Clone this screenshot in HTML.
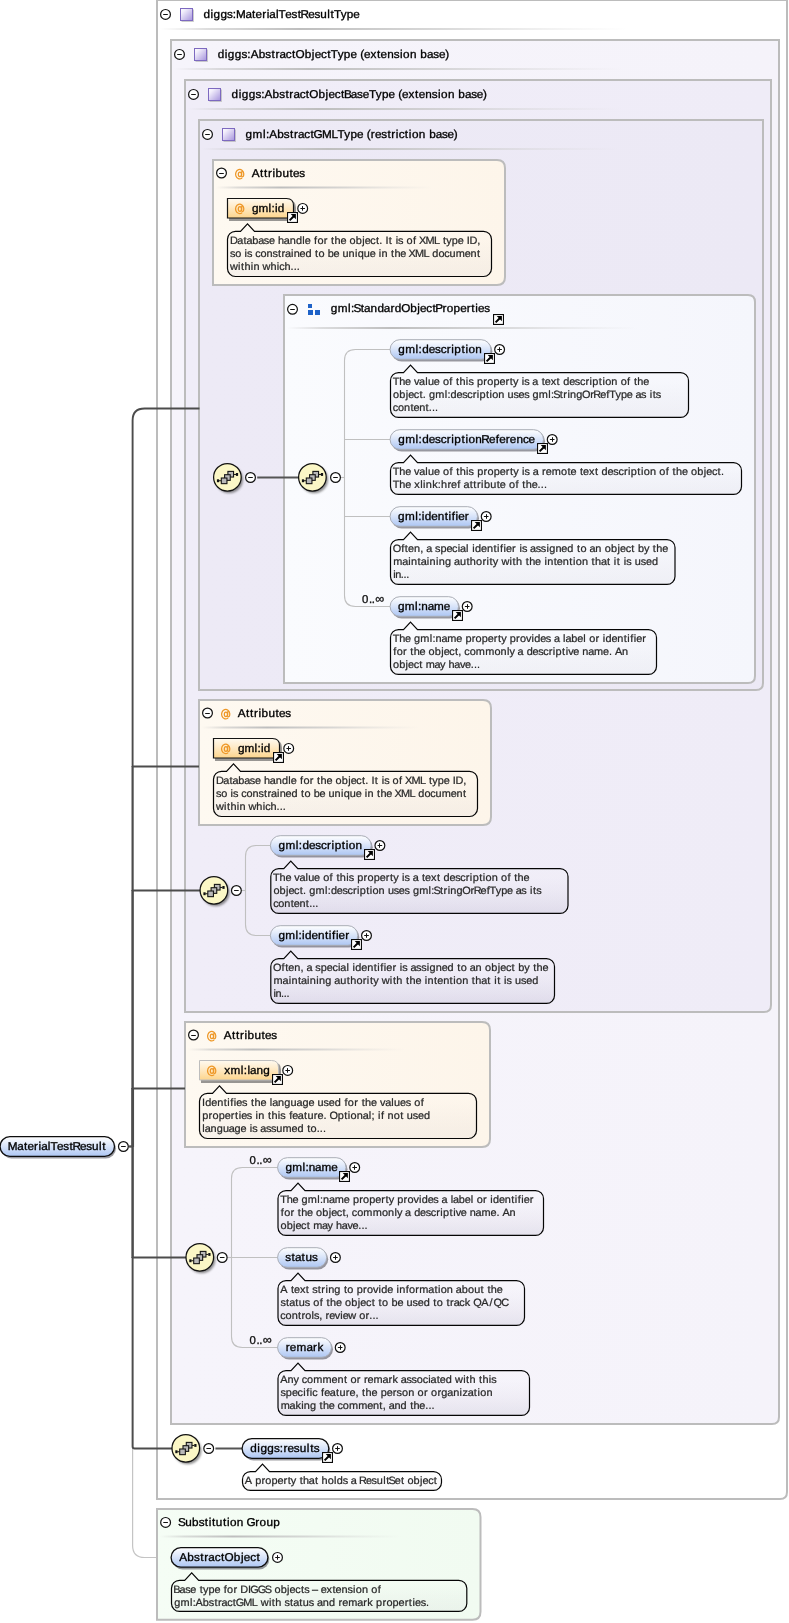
<!DOCTYPE html>
<html><head><meta charset="utf-8"><title>MaterialTestResult</title>
<style>html,body{margin:0;padding:0;background:#fff}svg{display:block;will-change:transform;opacity:0.999}</style>
</head><body>
<svg width="789" height="1623" viewBox="0 0 789 1623" font-family="Liberation Sans, sans-serif" text-rendering="geometricPrecision">
<defs>
<linearGradient id="gsep" x1="0" x2="1" y1="0" y2="0"><stop offset="0" stop-color="#c4c4c4" stop-opacity="0"/><stop offset="0.1" stop-color="#c2c2c2" stop-opacity="0.55"/><stop offset="0.3" stop-color="#bebebe" stop-opacity="1"/><stop offset="0.6" stop-color="#c8c8c8" stop-opacity="0.7"/><stop offset="1" stop-color="#d8d8d8" stop-opacity="0"/></linearGradient>
<linearGradient id="gicon" x1="0" x2="1" y1="0" y2="1"><stop offset="0" stop-color="#ffffff"/><stop offset="0.25" stop-color="#f1edfb"/><stop offset="1" stop-color="#a593dc"/></linearGradient>
<linearGradient id="gpill" x1="0" x2="0" y1="0" y2="1"><stop offset="0" stop-color="#ffffff"/><stop offset="0.35" stop-color="#e4ecfb"/><stop offset="1" stop-color="#adc6f3"/></linearGradient>
<linearGradient id="gattr" x1="0" x2="0" y1="0" y2="1"><stop offset="0" stop-color="#fffaf0"/><stop offset="0.4" stop-color="#ffeccb"/><stop offset="1" stop-color="#fdd58c"/></linearGradient>
<radialGradient id="gseq" cx="0.4" cy="0.35" r="0.8"><stop offset="0" stop-color="#fffce0"/><stop offset="1" stop-color="#f6eeb0"/></radialGradient>
<linearGradient id="gb0" x1="0" x2="1" y1="0" y2="0"><stop offset="0" stop-color="#ffffff"/><stop offset="1" stop-color="#ffffff"/></linearGradient>
<linearGradient id="gb1" x1="0" x2="1" y1="0" y2="0"><stop offset="0" stop-color="#f6f4fb"/><stop offset="1" stop-color="#f5f3fa"/></linearGradient>
<linearGradient id="gb2" x1="0" x2="1" y1="0" y2="0"><stop offset="0" stop-color="#f0edf8"/><stop offset="1" stop-color="#efecf7"/></linearGradient>
<linearGradient id="gb3" x1="0" x2="1" y1="0" y2="0"><stop offset="0" stop-color="#edeaf6"/><stop offset="1" stop-color="#ece9f5"/></linearGradient>
<linearGradient id="gatt" x1="0" x2="1" y1="0" y2="0"><stop offset="0" stop-color="#fef9f1"/><stop offset="1" stop-color="#fdf5ea"/></linearGradient>
<linearGradient id="ggrp" x1="0" x2="1" y1="0" y2="0"><stop offset="0" stop-color="#fafbfe"/><stop offset="1" stop-color="#f5f6fc"/></linearGradient>
<linearGradient id="gsub" x1="0" x2="1" y1="0" y2="0"><stop offset="0" stop-color="#f5fdf5"/><stop offset="1" stop-color="#f1fbf1"/></linearGradient>
<linearGradient id="gcall" x1="0" x2="0" y1="0" y2="1"><stop offset="0" stop-color="#ffffff" stop-opacity="0.15"/><stop offset="0.3" stop-color="#ffffff" stop-opacity="0.05"/><stop offset="1" stop-color="#3c3264" stop-opacity="0.09"/></linearGradient>
<linearGradient id="gcall2" x1="0" x2="0" y1="0" y2="1"><stop offset="0" stop-color="#ffffff" stop-opacity="0.3"/><stop offset="0.3" stop-color="#ffffff" stop-opacity="0.05"/><stop offset="1" stop-color="#3c3250" stop-opacity="0.04"/></linearGradient>
<filter id="blur2" x="-20%" y="-30%" width="140%" height="170%"><feGaussianBlur stdDeviation="0.7"/></filter>
<filter id="blur1" x="-20%" y="-20%" width="140%" height="150%"><feGaussianBlur stdDeviation="0.9"/></filter>
</defs>
<rect width="789" height="1623" fill="#fff"/>
<path d="M132.6,1146V1545.5Q132.6,1557.5 144.6,1557.5H171" fill="none" stroke="#c4c4c4" stroke-width="1.2"/>
<path d="M157,0H787V1492Q787,1499 780,1499H157Z" fill="url(#gb0)" stroke="#bcbcbc" stroke-width="2"/>
<path d="M171,40H779V1417Q779,1424 772,1424H171Z" fill="url(#gb1)" stroke="#bcbcbc" stroke-width="2"/>
<path d="M185,80H771V1005Q771,1012 764,1012H185Z" fill="url(#gb2)" stroke="#bcbcbc" stroke-width="2"/>
<path d="M199,120H763V683Q763,690 756,690H199Z" fill="url(#gb3)" stroke="#bcbcbc" stroke-width="2"/>
<circle cx="165.5" cy="14.4" r="4.9" fill="#fff" stroke="#111" stroke-width="1.2"/>
<path d="M163.2,14.5H167.8" stroke="#111" stroke-width="1.05"/>
<rect x="181.5" y="9.5" width="12.4" height="12.4" fill="#9a9a9a" opacity="0.55"/>
<rect x="180.5" y="8.5" width="12" height="12" fill="url(#gicon)" stroke="#7d69c0" stroke-width="1"/>
<text transform="scale(1.03,1)" x="197.65 204.44 207.40 214.02 220.37 226.05 229.16 238.28 244.76 248.14 254.58 258.93 261.52 267.91 270.46 276.99 283.04 288.99 291.83 299.20 305.24 310.94 317.69 320.88 324.16 330.79 336.61 342.95" y="18.0" font-size="11.4" fill="#000" stroke="#000" stroke-width="0.33" >diggs:MaterialTestResultType</text>
<rect x="160" y="28" width="467" height="2" fill="url(#gsep)"/>
<circle cx="179.5" cy="54.4" r="4.9" fill="#fff" stroke="#111" stroke-width="1.2"/>
<path d="M177.2,54.5H181.8" stroke="#111" stroke-width="1.05"/>
<rect x="195.5" y="49.5" width="12.4" height="12.4" fill="#9a9a9a" opacity="0.55"/>
<rect x="194.5" y="48.5" width="12" height="12" fill="url(#gicon)" stroke="#7d69c0" stroke-width="1"/>
<text transform="scale(1.03,1)" x="211.30 218.18 221.22 227.96 234.41 240.17 243.37 251.11 257.60 263.63 267.51 271.43 277.51 283.55 286.93 295.82 302.76 305.54 311.69 317.72 321.09 327.83 333.75 340.21 346.56 349.75 353.32 359.73 366.02 369.48 375.89 382.33 388.27 391.28 397.96 404.61 408.14 414.53 420.62 426.12 432.24" y="58.0" font-size="11.4" fill="#000" stroke="#000" stroke-width="0.33" >diggs:AbstractObjectType (extension base)</text>
<rect x="174" y="68" width="450" height="2" fill="url(#gsep)"/>
<circle cx="193.5" cy="94.4" r="4.9" fill="#fff" stroke="#111" stroke-width="1.2"/>
<path d="M191.2,94.5H195.8" stroke="#111" stroke-width="1.05"/>
<rect x="209.5" y="89.5" width="12.4" height="12.4" fill="#9a9a9a" opacity="0.55"/>
<rect x="208.5" y="88.5" width="12" height="12" fill="url(#gicon)" stroke="#7d69c0" stroke-width="1"/>
<text transform="scale(1.03,1)" x="224.88 231.75 234.78 241.50 247.94 253.68 256.87 264.59 271.06 277.08 280.94 284.85 290.92 296.94 300.31 309.18 316.10 318.87 325.01 331.03 333.90 340.62 346.69 352.18 358.18 364.90 370.81 377.25 383.59 386.77 390.33 396.72 403.00 406.45 412.84 419.26 425.18 428.18 434.85 441.49 445.00 451.38 457.44 462.94 469.04" y="98.0" font-size="11.4" fill="#000" stroke="#000" stroke-width="0.33" >diggs:AbstractObjectBaseType (extension base)</text>
<rect x="188" y="108" width="434" height="2" fill="url(#gsep)"/>
<circle cx="207.5" cy="134.4" r="4.9" fill="#fff" stroke="#111" stroke-width="1.2"/>
<path d="M205.2,134.5H209.8" stroke="#111" stroke-width="1.05"/>
<rect x="223.5" y="129.5" width="12.4" height="12.4" fill="#9a9a9a" opacity="0.55"/>
<rect x="222.5" y="128.5" width="12" height="12" fill="url(#gicon)" stroke="#7d69c0" stroke-width="1"/>
<text transform="scale(1.03,1)" x="238.43 245.23 255.33 258.28 261.45 269.14 275.59 281.58 285.43 289.31 295.36 301.36 304.44 312.72 321.81 327.62 334.31 340.19 346.60 352.93 356.09 360.05 364.00 370.10 376.10 379.95 384.33 387.07 393.07 396.94 399.92 406.55 413.17 416.66 423.01 429.05 434.52 440.60" y="138.0" font-size="11.4" fill="#000" stroke="#000" stroke-width="0.33" >gml:AbstractGMLType (restriction base)</text>
<rect x="202" y="148" width="418" height="2" fill="url(#gsep)"/>
<path d="M213,160H497Q505,160 505,168V277Q505,285 497,285H213Z" fill="url(#gatt)" stroke="#bcbcbc" stroke-width="2"/>
<circle cx="221.5" cy="173" r="4.9" fill="#fff" stroke="#111" stroke-width="1.2"/>
<path d="M219.2,173.5H223.8" stroke="#111" stroke-width="1.05"/>
<path d="M241.75,178.25A4.1,4.7 0 1 1 243.75,173.50L243.70,175.30Q243.55,176.90 242.45,176.85Q241.55,176.80 241.60,175.40L241.75,171.70" fill="none" stroke="#ee9726" stroke-width="1.25" stroke-linecap="round"/>
<ellipse cx="239.90" cy="174.35" rx="1.6" ry="2.35" fill="none" stroke="#ee9726" stroke-width="1.25"/>
<text transform="scale(1.03,1)" x="244.52 252.37 256.31 260.14 264.50 267.52 274.19 281.05 284.45 290.53" y="177.0" font-size="11.4" fill="#000" stroke="#000" stroke-width="0.33" >Attributes</text>
<rect x="216" y="186.5" width="217" height="2" fill="url(#gsep)"/>
<path d="M229,200.5H289Q296,200.5 296,207.5V221.0H229Z" fill="#555" opacity="0.6" filter="url(#blur2)"/>
<path d="M227.5,198.5H286.5Q293.5,198.5 293.5,205.5V218.0H227.5Z" fill="url(#gattr)" stroke="#141414" stroke-width="1.2"/>
<path d="M241.75,212.90A4.1,4.7 0 1 1 243.75,208.15L243.70,209.95Q243.55,211.55 242.45,211.50Q241.55,211.45 241.60,210.05L241.75,206.35" fill="none" stroke="#ee9726" stroke-width="1.25" stroke-linecap="round"/>
<ellipse cx="239.90" cy="209.00" rx="1.6" ry="2.35" fill="none" stroke="#ee9726" stroke-width="1.25"/>
<text transform="scale(1.03,1)" x="244.66 251.02 260.77 263.55 266.97 269.75" y="211.8" font-size="11.4" fill="#000" stroke="#000" stroke-width="0.33" >gml:id</text>
<rect x="287" y="212" width="11" height="11" fill="#0a0a0a"/>
<rect x="288.1" y="213.1" width="8.8" height="8.8" fill="#fff"/>
<path d="M289.6,220.4L294,216" stroke="#000" stroke-width="2"/>
<path d="M290.7,214.1H295.9V219.3Z" fill="#000"/>
<circle cx="302.7" cy="208.4" r="4.9" fill="#fff" stroke="#111" stroke-width="1.2"/>
<path d="M300.4,208.5H305.0" stroke="#111" stroke-width="1.05"/>
<path d="M302.5,206.1V210.70000000000002" stroke="#111" stroke-width="1.05"/>
<path d="M235.5,231.3H240.5L247.5,223.9L254.5,231.3H483.5A8,8 0 0 1 491.5,239.3V268.5A8,8 0 0 1 483.5,276.5H235.5A8,8 0 0 1 227.5,268.5V239.3A8,8 0 0 1 235.5,231.3Z" fill="url(#gcall2)" fill-opacity="1" stroke="#050505" stroke-width="1.2"/>
<text transform="scale(1.03,1)" x="223.19 230.37 236.31 239.30 245.02 250.74 256.20 261.12 266.86 269.92 275.60 281.28 287.32 293.55 295.93 301.68 304.96 308.21 314.34 318.14 321.46 324.77 330.51 336.26 339.30 345.33 351.60 354.03 359.54 364.99 368.31 371.38 374.34 377.54 380.86 384.11 386.53 391.72 394.77 400.97 404.25 406.72 413.02 421.26 426.86 430.18 433.33 438.62 444.40 450.15 453.10 455.79 463.30" y="243.5" font-size="10.6" fill="#2a2a2a" stroke="#2a2a2a" stroke-width="0.24" >Database handle for the object. It is of XML type ID,</text>
<text transform="scale(1.03,1)" x="223.20 228.31 234.26 237.47 239.85 245.00 247.80 252.91 258.83 264.55 269.94 273.36 276.78 282.60 285.19 290.87 296.58 302.59 305.87 309.12 315.06 318.12 323.84 329.54 332.55 338.48 344.62 347.26 353.24 358.91 364.61 367.83 370.42 376.38 379.67 382.93 388.60 394.30 396.73 402.95 411.12 416.67 419.73 425.69 431.40 436.53 442.52 451.19 456.87 463.07" y="256.5" font-size="10.6" fill="#2a2a2a" stroke="#2a2a2a" stroke-width="0.24" >so is constrained to be unique in the XML document</text>
<text transform="scale(1.03,1)" x="223.33 231.15 234.01 237.27 243.40 246.00 251.96 254.89 262.50 268.63 271.01 276.14 282.10 285.14 288.17" y="269.5" font-size="10.6" fill="#2a2a2a" stroke="#2a2a2a" stroke-width="0.24" >within which...</text>
<path d="M199,700H483Q491,700 491,708V817Q491,825 483,825H199Z" fill="url(#gatt)" stroke="#bcbcbc" stroke-width="2"/>
<circle cx="207.5" cy="713" r="4.9" fill="#fff" stroke="#111" stroke-width="1.2"/>
<path d="M205.2,713.5H209.8" stroke="#111" stroke-width="1.05"/>
<path d="M227.75,718.25A4.1,4.7 0 1 1 229.75,713.50L229.70,715.30Q229.55,716.90 228.45,716.85Q227.55,716.80 227.60,715.40L227.75,711.70" fill="none" stroke="#ee9726" stroke-width="1.25" stroke-linecap="round"/>
<ellipse cx="225.90" cy="714.35" rx="1.6" ry="2.35" fill="none" stroke="#ee9726" stroke-width="1.25"/>
<text transform="scale(1.03,1)" x="230.93 238.78 242.72 246.55 250.91 253.93 260.59 267.46 270.86 276.94" y="717.0" font-size="11.4" fill="#000" stroke="#000" stroke-width="0.33" >Attributes</text>
<rect x="202" y="726.5" width="217" height="2" fill="url(#gsep)"/>
<path d="M215,740.5H275Q282,740.5 282,747.5V761.0H215Z" fill="#555" opacity="0.6" filter="url(#blur2)"/>
<path d="M213.5,738.5H272.5Q279.5,738.5 279.5,745.5V758.0H213.5Z" fill="url(#gattr)" stroke="#141414" stroke-width="1.2"/>
<path d="M227.75,752.90A4.1,4.7 0 1 1 229.75,748.15L229.70,749.95Q229.55,751.55 228.45,751.50Q227.55,751.45 227.60,750.05L227.75,746.35" fill="none" stroke="#ee9726" stroke-width="1.25" stroke-linecap="round"/>
<ellipse cx="225.90" cy="749.00" rx="1.6" ry="2.35" fill="none" stroke="#ee9726" stroke-width="1.25"/>
<text transform="scale(1.03,1)" x="231.06 237.43 247.17 249.96 253.38 256.16" y="751.9" font-size="11.4" fill="#000" stroke="#000" stroke-width="0.33" >gml:id</text>
<rect x="273" y="752" width="11" height="11" fill="#0a0a0a"/>
<rect x="274.1" y="753.1" width="8.8" height="8.8" fill="#fff"/>
<path d="M275.6,760.4L280,756" stroke="#000" stroke-width="2"/>
<path d="M276.7,754.1H281.9V759.3Z" fill="#000"/>
<circle cx="288.7" cy="748.4" r="4.9" fill="#fff" stroke="#111" stroke-width="1.2"/>
<path d="M286.4,748.5H291.0" stroke="#111" stroke-width="1.05"/>
<path d="M288.5,746.1V750.6999999999999" stroke="#111" stroke-width="1.05"/>
<path d="M221.5,771.3H226.5L233.5,763.9L240.5,771.3H469.5A8,8 0 0 1 477.5,779.3V808.5A8,8 0 0 1 469.5,816.5H221.5A8,8 0 0 1 213.5,808.5V779.3A8,8 0 0 1 221.5,771.3Z" fill="url(#gcall2)" fill-opacity="1" stroke="#050505" stroke-width="1.2"/>
<text transform="scale(1.03,1)" x="209.60 216.78 222.72 225.71 231.43 237.15 242.60 247.52 253.27 256.33 262.01 267.69 273.73 279.96 282.34 288.09 291.37 294.62 300.75 304.55 307.87 311.18 316.91 322.66 325.71 331.74 338.01 340.43 345.95 351.40 354.72 357.79 360.75 363.95 367.27 370.52 372.94 378.13 381.18 387.38 390.65 393.13 399.43 407.67 413.27 416.59 419.74 425.03 430.81 436.55 439.51 442.20 449.71" y="783.5" font-size="10.6" fill="#2a2a2a" stroke="#2a2a2a" stroke-width="0.24" >Database handle for the object. It is of XML type ID,</text>
<text transform="scale(1.03,1)" x="209.61 214.72 220.66 223.88 226.26 231.41 234.21 239.32 245.24 250.95 256.35 259.77 263.18 269.00 271.60 277.27 282.99 289.00 292.28 295.52 301.47 304.53 310.24 315.95 318.96 324.89 331.03 333.67 339.64 345.32 351.02 354.23 356.83 362.79 366.08 369.33 375.01 380.71 383.13 389.36 397.53 403.08 406.14 412.10 417.81 422.93 428.93 437.60 443.27 449.48" y="796.5" font-size="10.6" fill="#2a2a2a" stroke="#2a2a2a" stroke-width="0.24" >so is constrained to be unique in the XML document</text>
<text transform="scale(1.03,1)" x="209.74 217.55 220.42 223.68 229.81 232.41 238.37 241.29 248.90 255.04 257.42 262.55 268.51 271.54 274.58" y="809.5" font-size="10.6" fill="#2a2a2a" stroke="#2a2a2a" stroke-width="0.24" >within which...</text>
<path d="M185,1022H482Q490,1022 490,1030V1139Q490,1147 482,1147H185Z" fill="url(#gatt)" stroke="#bcbcbc" stroke-width="2"/>
<circle cx="193.5" cy="1035" r="4.9" fill="#fff" stroke="#111" stroke-width="1.2"/>
<path d="M191.2,1035.5H195.8" stroke="#111" stroke-width="1.05"/>
<path d="M213.75,1040.25A4.1,4.7 0 1 1 215.75,1035.50L215.70,1037.30Q215.55,1038.90 214.45,1038.85Q213.55,1038.80 213.60,1037.40L213.75,1033.70" fill="none" stroke="#ee9726" stroke-width="1.25" stroke-linecap="round"/>
<ellipse cx="211.90" cy="1036.35" rx="1.6" ry="2.35" fill="none" stroke="#ee9726" stroke-width="1.25"/>
<text transform="scale(1.03,1)" x="217.34 225.19 229.13 232.95 237.32 240.33 247.00 253.87 257.27 263.35" y="1039.0" font-size="11.4" fill="#000" stroke="#000" stroke-width="0.33" >Attributes</text>
<rect x="188" y="1048.5" width="217" height="2" fill="url(#gsep)"/>
<path d="M201,1062.5H274Q281,1062.5 281,1069.5V1083.0H201Z" fill="#555" opacity="0.6" filter="url(#blur2)"/>
<path d="M199.5,1060.5H271.5Q278.5,1060.5 278.5,1067.5V1080.0H199.5Z" fill="url(#gattr)" stroke="#bdbdbd" stroke-width="1"/>
<path d="M213.75,1074.90A4.1,4.7 0 1 1 215.75,1070.15L215.70,1071.95Q215.55,1073.55 214.45,1073.50Q213.55,1073.45 213.60,1072.05L213.75,1068.35" fill="none" stroke="#ee9726" stroke-width="1.25" stroke-linecap="round"/>
<ellipse cx="211.90" cy="1071.00" rx="1.6" ry="2.35" fill="none" stroke="#ee9726" stroke-width="1.25"/>
<text transform="scale(1.03,1)" x="217.61 223.69 233.72 236.65 240.21 242.80 249.04 255.65" y="1073.8" font-size="11.4" fill="#000" stroke="#000" stroke-width="0.33" >xml:lang</text>
<rect x="272" y="1074" width="11" height="11" fill="#0a0a0a"/>
<rect x="273.1" y="1075.1" width="8.8" height="8.8" fill="#fff"/>
<path d="M274.6,1082.4L279,1078" stroke="#000" stroke-width="2"/>
<path d="M275.7,1076.1H280.9V1081.3Z" fill="#000"/>
<circle cx="287.7" cy="1070.4" r="4.9" fill="#fff" stroke="#111" stroke-width="1.2"/>
<path d="M285.4,1070.5H290.0" stroke="#111" stroke-width="1.05"/>
<path d="M287.5,1068.1000000000001V1072.7" stroke="#111" stroke-width="1.05"/>
<path d="M207.5,1093.3H212.5L219.5,1085.8999999999999L226.5,1093.3H468.5A8,8 0 0 1 476.5,1101.3V1130.5A8,8 0 0 1 468.5,1138.5H207.5A8,8 0 0 1 199.5,1130.5V1101.3A8,8 0 0 1 207.5,1093.3Z" fill="url(#gcall2)" fill-opacity="1" stroke="#050505" stroke-width="1.2"/>
<text transform="scale(1.03,1)" x="196.18 199.21 205.05 210.85 217.16 220.69 223.58 227.07 229.49 235.06 240.30 243.65 247.01 252.81 258.60 261.88 264.25 269.99 276.06 282.14 287.88 293.63 299.45 305.24 308.35 314.18 319.16 325.00 331.10 334.41 337.72 343.90 347.74 351.10 354.45 360.25 366.05 368.99 373.97 379.88 382.57 388.37 393.94 399.17 402.27 408.52" y="1105.5" font-size="10.6" fill="#2a2a2a" stroke="#2a2a2a" stroke-width="0.24" >Identifies the language used for the values of</text>
<text transform="scale(1.03,1)" x="196.33 202.55 206.35 212.42 218.23 224.15 228.22 231.73 234.14 239.68 244.90 248.16 250.83 256.87 260.21 263.55 269.76 272.20 277.42 280.72 283.75 289.20 295.16 298.50 304.68 308.23 314.00 317.09 319.80 327.86 334.19 337.70 340.36 346.38 352.09 357.98 360.65 363.74 367.00 369.88 373.18 376.27 382.29 388.56 391.90 394.99 400.80 405.75 411.56" y="1118.5" font-size="10.6" fill="#2a2a2a" stroke="#2a2a2a" stroke-width="0.24" >properties in this feature. Optional; if not used</text>
<text transform="scale(1.03,1)" x="196.45 198.76 204.42 210.41 216.41 222.07 227.74 233.48 239.21 242.45 244.86 250.04 252.77 258.21 263.15 268.31 274.37 283.10 288.86 294.90 298.21 301.49 307.47 310.53 313.60" y="1131.5" font-size="10.6" fill="#2a2a2a" stroke="#2a2a2a" stroke-width="0.24" >language is assumed to...</text>
<path d="M284,295H748Q755,295 755,302V676Q755,683 748,683H284Z" fill="url(#ggrp)" stroke="#bcbcbc" stroke-width="2"/>
<circle cx="292.5" cy="309.3" r="4.9" fill="#fff" stroke="#111" stroke-width="1.2"/>
<path d="M290.2,309.5H294.8" stroke="#111" stroke-width="1.05"/>
<rect x="308" y="304" width="4" height="4" fill="#1e62c8"/>
<rect x="308" y="310" width="5" height="5" fill="#1e62c8"/>
<rect x="315" y="310" width="5" height="5" fill="#1e62c8"/>
<text transform="scale(1.03,1)" x="321.11 327.82 337.85 340.77 343.14 350.22 353.53 359.77 366.40 372.67 379.05 383.27 389.51 398.27 405.12 407.82 413.87 419.82 422.57 429.65 433.81 440.42 446.77 453.20 457.64 461.46 464.11 470.16" y="312.2" font-size="11.4" fill="#000" stroke="#000" stroke-width="0.33" >gml:StandardObjectProperties</text>
<rect x="493" y="314" width="11" height="11" fill="#0a0a0a"/>
<rect x="494.1" y="315.1" width="8.8" height="8.8" fill="#fff"/>
<path d="M495.6,322.4L500,318" stroke="#000" stroke-width="2"/>
<path d="M496.7,316.1H501.9V321.3Z" fill="#000"/>
<rect x="287" y="327" width="351" height="2" fill="url(#gsep)"/>
<path d="M199.5,408.5H144.6Q132.6,408.5 132.6,420.5V767" stroke="#4c4c4c" stroke-width="1.9" fill="none"/>
<path d="M132.6,766V891" stroke="#4c4c4c" stroke-width="2.2" fill="none"/>
<path d="M132.6,890V1089" stroke="#4c4c4c" stroke-width="2.5" fill="none"/>
<path d="M132.6,1088V1147" stroke="#4c4c4c" stroke-width="2.9" fill="none"/>
<path d="M132.6,1146V1258" stroke="#4c4c4c" stroke-width="2.5" fill="none"/>
<path d="M132.6,1257V1446.5Q132.6,1448.5 134.6,1448.5H172" stroke="#4c4c4c" stroke-width="1.95" fill="none"/>
<path d="M132.6,766.5H199" stroke="#4c4c4c" stroke-width="2.0" fill="none"/>
<path d="M132.6,890.5H200" stroke="#4c4c4c" stroke-width="2.0" fill="none"/>
<path d="M132.6,1088.4H185" stroke="#4c4c4c" stroke-width="2.0" fill="none"/>
<path d="M132.6,1257.5H186" stroke="#4c4c4c" stroke-width="2.0" fill="none"/>
<path d="M128.8,1146.5H132" stroke="#505050" stroke-width="2.3" fill="none"/>
<path d="M257.2,477.5H299" stroke="#555" stroke-width="2" fill="none"/>
<path d="M215.4,1448.5H242" stroke="#555" stroke-width="2" fill="none"/>
<path d="M340,477.5H344.5" stroke="#c0c0c0" stroke-width="1.1" fill="none"/>
<path d="M390,349.5H355.5Q344.5,349.5 344.5,360.5V595.5Q344.5,606.5 355.5,606.5H390" stroke="#c0c0c0" stroke-width="1.1" fill="none"/>
<path d="M344.5,439.5H390" stroke="#c0c0c0" stroke-width="1.1" fill="none"/>
<path d="M344.5,516.5H390" stroke="#c0c0c0" stroke-width="1.1" fill="none"/>
<path d="M241,890.5H245.5" stroke="#c0c0c0" stroke-width="1.1" fill="none"/>
<path d="M271,845.5H256.5Q245.5,845.5 245.5,856.5V924.5Q245.5,935.5 256.5,935.5H271" stroke="#c0c0c0" stroke-width="1.1" fill="none"/>
<path d="M227,1257.5H231.5" stroke="#c0c0c0" stroke-width="1.1" fill="none"/>
<path d="M278,1167.5H242.5Q231.5,1167.5 231.5,1178.5V1336.5Q231.5,1347.5 242.5,1347.5H278" stroke="#c0c0c0" stroke-width="1.1" fill="none"/>
<path d="M231.5,1257.5H278" stroke="#c0c0c0" stroke-width="1.1" fill="none"/>
<circle cx="229.20000000000002" cy="479.5" r="13.8" fill="#444" opacity="0.6" filter="url(#blur1)"/>
<circle cx="227.4" cy="477.3" r="13.8" fill="#fbf7c6" stroke="#111" stroke-width="1.25"/>
<path d="M218.8,480.75H221.4M233.4,474.45H236.0" stroke="#111" stroke-width="1"/><rect x="216.9" y="479.3" width="2.2" height="2.9" fill="#111"/><rect x="235.9" y="473.0" width="2.2" height="2.9" fill="#111"/><rect x="227.90" y="471.40" width="5.65" height="5.65" fill="#b9b9b9" stroke="#161616" stroke-width="1.1"/><rect x="224.60" y="474.70" width="5.65" height="5.65" fill="#b9b9b9" stroke="#161616" stroke-width="1.1"/><rect x="221.30" y="478.00" width="5.65" height="5.65" fill="#b9b9b9" stroke="#161616" stroke-width="1.1"/>
<circle cx="250.5" cy="477.5" r="4.9" fill="#fff" stroke="#111" stroke-width="1.2"/>
<path d="M248.2,477.5H252.8" stroke="#111" stroke-width="1.05"/>
<circle cx="314.2" cy="479.5" r="13.8" fill="#444" opacity="0.6" filter="url(#blur1)"/>
<circle cx="312.4" cy="477.3" r="13.8" fill="#fbf7c6" stroke="#111" stroke-width="1.25"/>
<path d="M303.79999999999995,480.75H306.4M318.4,474.45H321.0" stroke="#111" stroke-width="1"/><rect x="301.9" y="479.3" width="2.2" height="2.9" fill="#111"/><rect x="320.9" y="473.0" width="2.2" height="2.9" fill="#111"/><rect x="312.90" y="471.40" width="5.65" height="5.65" fill="#b9b9b9" stroke="#161616" stroke-width="1.1"/><rect x="309.60" y="474.70" width="5.65" height="5.65" fill="#b9b9b9" stroke="#161616" stroke-width="1.1"/><rect x="306.30" y="478.00" width="5.65" height="5.65" fill="#b9b9b9" stroke="#161616" stroke-width="1.1"/>
<circle cx="335.5" cy="477.5" r="4.9" fill="#fff" stroke="#111" stroke-width="1.2"/>
<path d="M333.2,477.5H337.8" stroke="#111" stroke-width="1.05"/>
<circle cx="215.70000000000002" cy="892.5" r="13.8" fill="#444" opacity="0.6" filter="url(#blur1)"/>
<circle cx="213.9" cy="890.3" r="13.8" fill="#fbf7c6" stroke="#111" stroke-width="1.25"/>
<path d="M205.3,893.75H207.9M219.9,887.4499999999999H222.5" stroke="#111" stroke-width="1"/><rect x="203.4" y="892.3" width="2.2" height="2.9" fill="#111"/><rect x="222.4" y="886.0" width="2.2" height="2.9" fill="#111"/><rect x="214.40" y="884.40" width="5.65" height="5.65" fill="#b9b9b9" stroke="#161616" stroke-width="1.1"/><rect x="211.10" y="887.70" width="5.65" height="5.65" fill="#b9b9b9" stroke="#161616" stroke-width="1.1"/><rect x="207.80" y="891.00" width="5.65" height="5.65" fill="#b9b9b9" stroke="#161616" stroke-width="1.1"/>
<circle cx="236.4" cy="890.5" r="4.9" fill="#fff" stroke="#111" stroke-width="1.2"/>
<path d="M234.1,890.5H238.70000000000002" stroke="#111" stroke-width="1.05"/>
<circle cx="201.60000000000002" cy="1259.5" r="13.8" fill="#444" opacity="0.6" filter="url(#blur1)"/>
<circle cx="199.8" cy="1257.3" r="13.8" fill="#fbf7c6" stroke="#111" stroke-width="1.25"/>
<path d="M191.20000000000002,1260.75H193.8M205.8,1254.45H208.4" stroke="#111" stroke-width="1"/><rect x="189.3" y="1259.3" width="2.2" height="2.9" fill="#111"/><rect x="208.3" y="1253.0" width="2.2" height="2.9" fill="#111"/><rect x="200.30" y="1251.40" width="5.65" height="5.65" fill="#b9b9b9" stroke="#161616" stroke-width="1.1"/><rect x="197.00" y="1254.70" width="5.65" height="5.65" fill="#b9b9b9" stroke="#161616" stroke-width="1.1"/><rect x="193.70" y="1258.00" width="5.65" height="5.65" fill="#b9b9b9" stroke="#161616" stroke-width="1.1"/>
<circle cx="222.2" cy="1257.5" r="4.9" fill="#fff" stroke="#111" stroke-width="1.2"/>
<path d="M219.89999999999998,1257.5H224.5" stroke="#111" stroke-width="1.05"/>
<circle cx="187.60000000000002" cy="1450.5" r="13.8" fill="#444" opacity="0.6" filter="url(#blur1)"/>
<circle cx="185.8" cy="1448.3" r="13.8" fill="#fbf7c6" stroke="#111" stroke-width="1.25"/>
<path d="M177.20000000000002,1451.75H179.8M191.8,1445.45H194.4" stroke="#111" stroke-width="1"/><rect x="175.3" y="1450.3" width="2.2" height="2.9" fill="#111"/><rect x="194.3" y="1444.0" width="2.2" height="2.9" fill="#111"/><rect x="186.30" y="1442.40" width="5.65" height="5.65" fill="#b9b9b9" stroke="#161616" stroke-width="1.1"/><rect x="183.00" y="1445.70" width="5.65" height="5.65" fill="#b9b9b9" stroke="#161616" stroke-width="1.1"/><rect x="179.70" y="1449.00" width="5.65" height="5.65" fill="#b9b9b9" stroke="#161616" stroke-width="1.1"/>
<circle cx="208.7" cy="1448.5" r="4.9" fill="#fff" stroke="#111" stroke-width="1.2"/>
<path d="M206.39999999999998,1448.5H211.0" stroke="#111" stroke-width="1.05"/>
<rect x="391.4" y="340.9" width="100.99999999999997" height="20.600000000000023" rx="10.300000000000011" fill="#4a4a55" opacity="0.55" filter="url(#blur2)"/>
<rect x="390.1" y="339.7" width="100.79999999999998" height="19.600000000000023" rx="9.800000000000011" fill="url(#gpill)" stroke="#a9adb6" stroke-width="1"/>
<text transform="scale(1.03,1)" x="386.57 393.36 403.43 406.38 409.86 416.25 422.34 427.83 433.71 438.08 441.11 448.04 451.89 454.85 461.47" y="353.1" font-size="11.4" fill="#000" stroke="#000" stroke-width="0.33" >gml:description</text>
<rect x="484" y="353" width="11" height="11" fill="#0a0a0a"/>
<rect x="485.1" y="354.1" width="8.8" height="8.8" fill="#fff"/>
<path d="M486.6,361.4L491,357" stroke="#000" stroke-width="2"/>
<path d="M487.7,355.1H492.9V360.3Z" fill="#000"/>
<circle cx="499.59999999999997" cy="349.5" r="4.9" fill="#fff" stroke="#111" stroke-width="1.2"/>
<path d="M497.29999999999995,349.5H501.9" stroke="#111" stroke-width="1.05"/>
<path d="M499.5,347.2V351.8" stroke="#111" stroke-width="1.05"/>
<path d="M398.5,372.6H403.5L410.5,365.20000000000005L417.5,372.6H680.5A8,8 0 0 1 688.5,380.6V409.40000000000003A8,8 0 0 1 680.5,417.40000000000003H398.5A8,8 0 0 1 390.5,409.40000000000003V380.6A8,8 0 0 1 398.5,372.6Z" fill="url(#gcall2)" fill-opacity="1" stroke="#050505" stroke-width="1.2"/>
<text transform="scale(1.03,1)" x="381.34 387.57 393.32 399.07 401.98 406.91 412.78 415.43 421.18 426.94 429.99 436.20 439.48 442.81 446.12 452.31 454.74 459.94 463.05 469.26 473.04 479.07 484.86 490.76 494.81 497.97 503.23 506.48 508.91 514.11 516.86 522.55 525.88 528.93 534.69 540.37 543.70 546.81 552.60 558.12 563.10 568.44 572.42 575.11 581.42 584.92 587.56 593.55 599.57 602.63 608.83 612.12 615.44 618.76 624.50" y="384.8" font-size="10.6" fill="#2a2a2a" stroke="#2a2a2a" stroke-width="0.24" >The value of this property is a text description of the</text>
<text transform="scale(1.03,1)" x="381.67 387.65 393.89 396.28 401.77 407.18 410.48 413.53 416.57 422.61 431.76 434.40 437.47 443.21 448.68 453.61 458.92 462.86 465.52 471.79 475.26 477.85 483.80 489.77 492.80 498.54 503.42 508.89 514.06 517.10 523.14 532.29 534.93 537.02 543.48 546.92 550.86 553.48 559.45 565.03 573.11 576.09 582.77 588.69 591.56 597.58 602.83 608.56 614.28 616.99 622.41 627.57 630.80 633.68 636.73" y="397.8" font-size="10.6" fill="#2a2a2a" stroke="#2a2a2a" stroke-width="0.24" >object. gml:description uses gml:StringOrRefType as its</text>
<text transform="scale(1.03,1)" x="381.43 386.47 392.31 398.45 401.39 406.99 413.13 416.37 419.37 422.37" y="410.8" font-size="10.6" fill="#2a2a2a" stroke="#2a2a2a" stroke-width="0.24" >content...</text>
<rect x="391.4" y="430.9" width="153.6" height="20.600000000000023" rx="10.300000000000011" fill="#4a4a55" opacity="0.55" filter="url(#blur2)"/>
<rect x="390.1" y="429.7" width="153.4" height="19.600000000000023" rx="9.800000000000011" fill="url(#gpill)" stroke="#a9adb6" stroke-width="1"/>
<text transform="scale(1.03,1)" x="386.57 393.36 403.43 406.38 409.86 416.25 422.34 427.84 433.71 438.09 441.12 448.04 451.90 454.86 461.48 467.30 474.71 481.25 484.62 491.10 495.03 501.38 507.76 513.22" y="443.1" font-size="11.4" fill="#000" stroke="#000" stroke-width="0.33" >gml:descriptionReference</text>
<rect x="537" y="443" width="11" height="11" fill="#0a0a0a"/>
<rect x="538.1" y="444.1" width="8.8" height="8.8" fill="#fff"/>
<path d="M539.6,451.4L544,447" stroke="#000" stroke-width="2"/>
<path d="M540.7,445.1H545.9V450.3Z" fill="#000"/>
<circle cx="552.2" cy="439.5" r="4.9" fill="#fff" stroke="#111" stroke-width="1.2"/>
<path d="M549.9000000000001,439.5H554.5" stroke="#111" stroke-width="1.05"/>
<path d="M552.5,437.2V441.8" stroke="#111" stroke-width="1.05"/>
<path d="M398.5,462.6H403.5L410.5,455.20000000000005L417.5,462.6H733.5A8,8 0 0 1 741.5,470.6V486.40000000000003A8,8 0 0 1 733.5,494.40000000000003H398.5A8,8 0 0 1 390.5,486.40000000000003V470.6A8,8 0 0 1 398.5,462.6Z" fill="url(#gcall2)" fill-opacity="1" stroke="#050505" stroke-width="1.2"/>
<text transform="scale(1.03,1)" x="381.35 387.60 393.36 399.13 402.05 407.00 412.88 415.55 421.31 427.08 430.15 436.37 439.66 443.00 446.33 452.53 454.97 460.19 463.31 469.53 473.32 479.38 485.19 491.10 495.16 498.33 503.61 506.87 509.31 514.52 517.28 522.99 526.22 529.76 535.61 544.65 550.91 553.98 559.75 563.09 566.15 571.93 577.62 580.96 584.09 589.89 595.43 600.42 605.78 609.76 612.47 618.80 622.31 624.96 630.97 637.00 640.07 646.29 649.59 652.92 656.25 662.02 667.79 670.85 676.91 683.20 685.65 691.19 696.66 699.99" y="474.8" font-size="10.6" fill="#2a2a2a" stroke="#2a2a2a" stroke-width="0.24" >The value of this property is a remote text description of the object.</text>
<text transform="scale(1.03,1)" x="381.36 387.63 393.41 399.20 402.30 407.94 410.79 413.47 419.58 425.10 428.19 434.38 437.95 443.94 447.24 450.01 455.99 459.59 463.08 467.08 469.80 475.89 482.19 485.28 491.06 494.14 500.38 503.69 507.03 510.38 516.16 521.95 525.05 528.14" y="487.8" font-size="10.6" fill="#2a2a2a" stroke="#2a2a2a" stroke-width="0.24" >The xlink:href attribute of the...</text>
<rect x="391.4" y="507.9" width="87.6" height="20.599999999999966" rx="10.299999999999983" fill="#4a4a55" opacity="0.55" filter="url(#blur2)"/>
<rect x="390.1" y="506.7" width="87.4" height="19.599999999999966" rx="9.799999999999983" fill="url(#gpill)" stroke="#a9adb6" stroke-width="1"/>
<text transform="scale(1.03,1)" x="386.51 393.13 403.08 405.97 409.48 412.42 418.69 424.91 431.69 435.48 438.59 442.33 444.93 451.31" y="520.1" font-size="11.4" fill="#000" stroke="#000" stroke-width="0.33" >gml:identifier</text>
<rect x="471" y="520" width="11" height="11" fill="#0a0a0a"/>
<rect x="472.1" y="521.1" width="8.8" height="8.8" fill="#fff"/>
<path d="M473.6,528.4L478,524" stroke="#000" stroke-width="2"/>
<path d="M474.7,522.1H479.9V527.3Z" fill="#000"/>
<circle cx="486.2" cy="516.5" r="4.9" fill="#fff" stroke="#111" stroke-width="1.2"/>
<path d="M483.9,516.5H488.5" stroke="#111" stroke-width="1.05"/>
<path d="M486.5,514.2V518.8" stroke="#111" stroke-width="1.05"/>
<path d="M398.5,539.6H403.5L410.5,532.2L417.5,539.6H667.0A8,8 0 0 1 675.0,547.6V576.4A8,8 0 0 1 667.0,584.4H398.5A8,8 0 0 1 390.5,576.4V547.6A8,8 0 0 1 398.5,539.6Z" fill="url(#gcall2)" fill-opacity="1" stroke="#050505" stroke-width="1.2"/>
<text transform="scale(1.03,1)" x="381.34 389.54 393.08 396.15 401.91 407.94 411.03 413.78 419.49 422.35 427.60 433.40 438.94 444.33 446.67 452.55 455.22 458.48 461.19 466.99 472.75 479.03 482.54 485.41 488.88 491.28 497.19 501.00 504.26 506.70 511.91 514.66 520.14 525.12 530.50 533.18 539.22 544.98 550.79 556.86 560.20 563.51 569.53 572.29 577.99 584.02 587.08 593.14 599.43 601.87 607.41 612.88 616.21 619.34 625.25 630.52 633.85 637.18 642.94" y="551.8" font-size="10.6" fill="#2a2a2a" stroke="#2a2a2a" stroke-width="0.24" >Often, a special identifier is assigned to an object by the</text>
<text transform="scale(1.03,1)" x="381.82 390.57 396.46 399.14 405.44 408.46 414.36 417.03 423.25 425.93 431.99 438.06 440.83 446.55 452.85 456.19 462.23 468.40 472.40 475.33 478.51 483.80 486.83 494.74 497.67 501.02 507.06 510.41 513.76 519.54 525.32 528.59 531.27 537.57 540.65 546.43 552.73 556.25 558.91 564.94 570.99 574.33 577.68 583.40 589.38 592.72 595.99 598.92 602.27 605.54 607.99 613.22 616.31 622.13 627.09 632.92" y="564.8" font-size="10.6" fill="#2a2a2a" stroke="#2a2a2a" stroke-width="0.24" >maintaining authority with the intention that it is used</text>
<text transform="scale(1.03,1)" x="381.69 383.72 389.10 391.74 394.39" y="577.8" font-size="10.6" fill="#2a2a2a" stroke="#2a2a2a" stroke-width="0.24" >in...</text>
<rect x="391.4" y="597.9000000000001" width="68.6" height="20.59999999999991" rx="10.299999999999955" fill="#4a4a55" opacity="0.55" filter="url(#blur2)"/>
<rect x="390.1" y="596.7" width="68.4" height="19.59999999999991" rx="9.799999999999955" fill="url(#gpill)" stroke="#a9adb6" stroke-width="1"/>
<text transform="scale(1.03,1)" x="386.48 393.03 402.92 405.78 409.07 415.18 421.37 430.78" y="610.1" font-size="11.4" fill="#000" stroke="#000" stroke-width="0.33" >gml:name</text>
<rect x="452" y="610" width="11" height="11" fill="#0a0a0a"/>
<rect x="453.1" y="611.1" width="8.8" height="8.8" fill="#fff"/>
<path d="M454.6,618.4L459,614" stroke="#000" stroke-width="2"/>
<path d="M455.7,612.1H460.9V617.3Z" fill="#000"/>
<circle cx="467.2" cy="606.5" r="4.9" fill="#fff" stroke="#111" stroke-width="1.2"/>
<path d="M464.9,606.5H469.5" stroke="#111" stroke-width="1.05"/>
<path d="M467.5,604.2V608.8" stroke="#111" stroke-width="1.05"/>
<text x="362.0 368.9 371.8" y="602.7" font-size="11.4" fill="#111" stroke="#111" stroke-width="0.33">0..</text>
<text x="375.2" y="602.9" font-size="12.6" fill="#111" stroke="#111" stroke-width="0.3">∞</text>
<path d="M398.5,629.6H403.5L410.5,622.2L417.5,629.6H648.5A8,8 0 0 1 656.5,637.6V666.4A8,8 0 0 1 648.5,674.4H398.5A8,8 0 0 1 390.5,666.4V637.6A8,8 0 0 1 398.5,629.6Z" fill="url(#gcall2)" fill-opacity="1" stroke="#050505" stroke-width="1.2"/>
<text transform="scale(1.03,1)" x="381.33 387.52 393.23 398.96 402.01 408.07 417.25 419.89 422.93 428.58 434.31 443.03 448.76 451.84 458.01 461.76 467.77 473.52 479.39 483.42 486.55 491.79 494.87 501.05 504.80 510.60 516.01 518.68 524.43 529.92 535.10 537.82 543.49 546.73 549.03 554.73 560.48 566.39 569.03 572.06 578.17 581.96 585.19 587.86 593.61 599.32 605.56 609.04 611.89 615.32 617.69 623.56" y="641.8" font-size="10.6" fill="#2a2a2a" stroke="#2a2a2a" stroke-width="0.24" >The gml:name property provides a label or identifier</text>
<text transform="scale(1.03,1)" x="381.91 385.14 391.25 395.03 398.33 401.62 407.33 413.05 416.08 422.08 428.33 430.73 436.22 441.65 444.95 448.01 450.83 455.98 462.00 471.05 480.01 485.96 492.13 494.59 499.83 502.55 508.22 511.30 517.05 522.54 527.48 532.79 536.75 539.41 545.69 549.17 551.64 556.59 562.32 565.36 571.01 576.73 585.44 591.17 594.23 597.00 603.87" y="654.8" font-size="10.6" fill="#2a2a2a" stroke="#2a2a2a" stroke-width="0.24" >for the object, commonly a descriptive name. An</text>
<text transform="scale(1.03,1)" x="381.64 387.58 393.78 396.14 401.58 406.96 410.23 413.27 421.85 427.29 432.48 435.47 441.06 446.50 451.40 457.08 460.11 463.13" y="667.8" font-size="10.6" fill="#2a2a2a" stroke="#2a2a2a" stroke-width="0.24" >object may have...</text>
<rect x="271.7" y="836.9000000000001" width="100.99999999999997" height="20.59999999999991" rx="10.299999999999955" fill="#4a4a55" opacity="0.55" filter="url(#blur2)"/>
<rect x="270.40000000000003" y="835.7" width="100.79999999999998" height="19.59999999999991" rx="9.799999999999955" fill="url(#gpill)" stroke="#a9adb6" stroke-width="1"/>
<text transform="scale(1.03,1)" x="270.36 277.14 287.22 290.16 293.64 300.04 306.13 311.62 317.49 321.87 324.90 331.82 335.68 338.64 345.26" y="849.1" font-size="11.4" fill="#000" stroke="#000" stroke-width="0.33" >gml:description</text>
<rect x="364" y="849" width="11" height="11" fill="#0a0a0a"/>
<rect x="365.1" y="850.1" width="8.8" height="8.8" fill="#fff"/>
<path d="M366.6,857.4L371,853" stroke="#000" stroke-width="2"/>
<path d="M367.7,851.1H372.9V856.3Z" fill="#000"/>
<circle cx="379.9" cy="845.5" r="4.9" fill="#fff" stroke="#111" stroke-width="1.2"/>
<path d="M377.59999999999997,845.5H382.2" stroke="#111" stroke-width="1.05"/>
<path d="M379.5,843.2V847.8" stroke="#111" stroke-width="1.05"/>
<path d="M278.8,868.6H283.8L290.8,861.2L297.8,868.6H560.0A8,8 0 0 1 568.0,876.6V905.4A8,8 0 0 1 560.0,913.4H278.8A8,8 0 0 1 270.8,905.4V876.6A8,8 0 0 1 278.8,868.6Z" fill="url(#gcall)" fill-opacity="1" stroke="#050505" stroke-width="1.2"/>
<text transform="scale(1.03,1)" x="265.13 271.36 277.10 282.86 285.77 290.70 296.57 299.22 304.97 310.72 313.78 319.98 323.27 326.59 329.91 336.10 338.53 343.73 346.84 353.04 356.82 362.86 368.65 374.55 378.60 381.76 387.02 390.27 392.70 397.90 400.64 406.34 409.67 412.72 418.48 424.16 427.49 430.60 436.39 441.91 446.88 452.23 456.20 458.90 465.21 468.71 471.35 477.34 483.36 486.41 492.62 495.90 499.23 502.55 508.29" y="880.8" font-size="10.6" fill="#2a2a2a" stroke="#2a2a2a" stroke-width="0.24" >The value of this property is a text description of the</text>
<text transform="scale(1.03,1)" x="265.45 271.44 277.68 280.07 285.55 290.97 294.26 297.31 300.36 306.39 315.55 318.18 321.25 326.99 332.47 337.40 342.70 346.65 349.30 355.57 359.04 361.64 367.58 373.56 376.59 382.32 387.21 392.68 397.85 400.89 406.93 416.08 418.71 420.81 427.27 430.70 434.65 437.26 443.23 448.82 456.89 459.87 466.56 472.48 475.35 481.36 486.61 492.35 498.07 500.78 506.20 511.36 514.58 517.46 520.52" y="893.8" font-size="10.6" fill="#2a2a2a" stroke="#2a2a2a" stroke-width="0.24" >object. gml:description uses gml:StringOrRefType as its</text>
<text transform="scale(1.03,1)" x="265.21 270.25 276.09 282.24 285.17 290.77 296.92 300.16 303.16 306.15" y="906.8" font-size="10.6" fill="#2a2a2a" stroke="#2a2a2a" stroke-width="0.24" >content...</text>
<rect x="271.7" y="926.9000000000001" width="87.6" height="20.59999999999991" rx="10.299999999999955" fill="#4a4a55" opacity="0.55" filter="url(#blur2)"/>
<rect x="270.40000000000003" y="925.7" width="87.4" height="19.59999999999991" rx="9.799999999999955" fill="url(#gpill)" stroke="#a9adb6" stroke-width="1"/>
<text transform="scale(1.03,1)" x="270.29 276.92 286.87 289.75 293.27 296.20 302.48 308.70 315.48 319.27 322.37 326.11 328.71 335.09" y="939.1" font-size="11.4" fill="#000" stroke="#000" stroke-width="0.33" >gml:identifier</text>
<rect x="351" y="939" width="11" height="11" fill="#0a0a0a"/>
<rect x="352.1" y="940.1" width="8.8" height="8.8" fill="#fff"/>
<path d="M353.6,947.4L358,943" stroke="#000" stroke-width="2"/>
<path d="M354.7,941.1H359.9V946.3Z" fill="#000"/>
<circle cx="366.5" cy="935.5" r="4.9" fill="#fff" stroke="#111" stroke-width="1.2"/>
<path d="M364.2,935.5H368.8" stroke="#111" stroke-width="1.05"/>
<path d="M366.5,933.2V937.8" stroke="#111" stroke-width="1.05"/>
<path d="M278.8,958.6H283.8L290.8,951.2L297.8,958.6H546.5A8,8 0 0 1 554.5,966.6V995.4A8,8 0 0 1 546.5,1003.4H278.8A8,8 0 0 1 270.8,995.4V966.6A8,8 0 0 1 278.8,958.6Z" fill="url(#gcall)" fill-opacity="1" stroke="#050505" stroke-width="1.2"/>
<text transform="scale(1.03,1)" x="265.12 273.33 276.87 279.93 285.70 291.73 294.81 297.57 303.28 306.13 311.38 317.19 322.73 328.12 330.46 336.34 339.01 342.27 344.97 350.78 356.54 362.82 366.33 369.20 372.66 375.06 380.97 384.78 388.04 390.48 395.69 398.45 403.93 408.91 414.29 416.97 423.01 428.77 434.58 440.65 443.98 447.30 453.31 456.07 461.78 467.81 470.87 476.93 483.22 485.66 491.20 496.67 500.00 503.12 509.03 514.31 517.64 520.97 526.73" y="970.8" font-size="10.6" fill="#2a2a2a" stroke="#2a2a2a" stroke-width="0.24" >Often, a special identifier is assigned to an object by the</text>
<text transform="scale(1.03,1)" x="265.60 274.35 280.25 282.93 289.22 292.25 298.14 300.82 307.04 309.72 315.78 321.84 324.61 330.34 336.63 339.98 346.01 352.19 356.19 359.11 362.30 367.59 370.62 378.53 381.46 384.80 390.85 394.20 397.54 403.33 409.11 412.38 415.06 421.35 424.43 430.22 436.51 440.03 442.70 448.73 454.77 458.12 461.47 467.19 473.16 476.51 479.78 482.71 486.06 489.32 491.78 497.00 500.10 505.92 510.88 516.70" y="983.8" font-size="10.6" fill="#2a2a2a" stroke="#2a2a2a" stroke-width="0.24" >maintaining authority with the intention that it is used</text>
<text transform="scale(1.03,1)" x="265.48 267.51 272.89 275.53 278.18" y="996.8" font-size="10.6" fill="#2a2a2a" stroke="#2a2a2a" stroke-width="0.24" >in...</text>
<rect x="278.9" y="1158.9" width="68.6" height="20.59999999999991" rx="10.299999999999955" fill="#4a4a55" opacity="0.55" filter="url(#blur2)"/>
<rect x="277.6" y="1157.7" width="68.4" height="19.59999999999991" rx="9.799999999999955" fill="url(#gpill)" stroke="#a9adb6" stroke-width="1"/>
<text transform="scale(1.03,1)" x="277.26 283.81 293.70 296.56 299.85 305.95 312.15 321.56" y="1171.1" font-size="11.4" fill="#000" stroke="#000" stroke-width="0.33" >gml:name</text>
<rect x="339" y="1171" width="11" height="11" fill="#0a0a0a"/>
<rect x="340.1" y="1172.1" width="8.8" height="8.8" fill="#fff"/>
<path d="M341.6,1179.4L346,1175" stroke="#000" stroke-width="2"/>
<path d="M342.7,1173.1H347.9V1178.3Z" fill="#000"/>
<circle cx="354.7" cy="1167.5" r="4.9" fill="#fff" stroke="#111" stroke-width="1.2"/>
<path d="M352.4,1167.5H357.0" stroke="#111" stroke-width="1.05"/>
<path d="M354.5,1165.2V1169.8" stroke="#111" stroke-width="1.05"/>
<text x="249.5 256.4 259.3" y="1163.7" font-size="11.4" fill="#111" stroke="#111" stroke-width="0.33">0..</text>
<text x="262.7" y="1163.9" font-size="12.6" fill="#111" stroke="#111" stroke-width="0.3">∞</text>
<path d="M286.0,1190.6H291.0L298.0,1183.1999999999998L305.0,1190.6H535.5A8,8 0 0 1 543.5,1198.6V1227.3999999999999A8,8 0 0 1 535.5,1235.3999999999999H286.0A8,8 0 0 1 278.0,1227.3999999999999V1198.6A8,8 0 0 1 286.0,1190.6Z" fill="url(#gcall)" fill-opacity="1" stroke="#050505" stroke-width="1.2"/>
<text transform="scale(1.03,1)" x="272.10 278.29 284.01 289.74 292.79 298.85 308.02 310.67 313.71 319.36 325.09 333.80 339.53 342.62 348.79 352.54 358.54 364.30 370.17 374.20 377.33 382.56 385.65 391.82 395.57 401.37 406.79 409.45 415.21 420.70 425.88 428.60 434.27 437.50 439.81 445.51 451.26 457.16 459.81 462.83 468.95 472.73 475.96 478.63 484.39 490.10 496.34 499.82 502.66 506.10 508.46 514.33" y="1202.8" font-size="10.6" fill="#2a2a2a" stroke="#2a2a2a" stroke-width="0.24" >The gml:name property provides a label or identifier</text>
<text transform="scale(1.03,1)" x="272.69 275.91 282.03 285.81 289.11 292.39 298.10 303.83 306.85 312.85 319.10 321.51 327.00 332.42 335.73 338.79 341.61 346.75 352.78 361.83 370.79 376.74 382.90 385.37 390.61 393.32 398.99 402.08 407.83 413.32 418.25 423.57 427.52 430.19 436.47 439.95 442.41 447.37 453.10 456.13 461.78 467.51 476.22 481.95 485.00 487.77 494.65" y="1215.8" font-size="10.6" fill="#2a2a2a" stroke="#2a2a2a" stroke-width="0.24" >for the object, commonly a descriptive name. An</text>
<text transform="scale(1.03,1)" x="272.42 278.35 284.56 286.92 292.35 297.73 301.00 304.05 312.63 318.06 323.26 326.25 331.84 337.28 342.18 347.86 350.88 353.91" y="1228.8" font-size="10.6" fill="#2a2a2a" stroke="#2a2a2a" stroke-width="0.24" >object may have...</text>
<rect x="278.9" y="1248.9" width="49.29999999999999" height="20.59999999999991" rx="10.299999999999955" fill="#4a4a55" opacity="0.55" filter="url(#blur2)"/>
<rect x="277.6" y="1247.7" width="49.09999999999999" height="19.59999999999991" rx="9.799999999999955" fill="url(#gpill)" stroke="#a9adb6" stroke-width="1"/>
<text transform="scale(1.03,1)" x="277.06 283.02 286.34 292.84 296.52 302.87" y="1261.1" font-size="11.4" fill="#000" stroke="#000" stroke-width="0.33" >status</text>
<circle cx="335.4" cy="1257.5" r="4.9" fill="#fff" stroke="#111" stroke-width="1.2"/>
<path d="M333.09999999999997,1257.5H337.7" stroke="#111" stroke-width="1.05"/>
<path d="M335.5,1255.2V1259.8" stroke="#111" stroke-width="1.05"/>
<path d="M286.0,1280.6H291.0L298.0,1273.1999999999998L305.0,1280.6H516.5A8,8 0 0 1 524.5,1288.6V1317.3999999999999A8,8 0 0 1 516.5,1325.3999999999999H286.0A8,8 0 0 1 278.0,1317.3999999999999V1288.6A8,8 0 0 1 286.0,1280.6Z" fill="url(#gcall)" fill-opacity="1" stroke="#050505" stroke-width="1.2"/>
<text transform="scale(1.03,1)" x="272.21 279.13 282.45 285.50 291.24 296.92 300.24 303.07 308.51 311.97 315.94 318.59 324.60 330.62 333.94 337.24 343.23 346.34 352.53 356.30 362.13 367.56 370.24 376.02 381.77 385.01 387.66 393.87 397.12 403.26 407.12 415.81 421.75 425.24 427.87 433.85 439.86 442.60 448.32 454.35 460.34 466.59 469.91 473.23 476.54 482.28" y="1292.8" font-size="10.6" fill="#2a2a2a" stroke="#2a2a2a" stroke-width="0.24" >A text string to provide information about the</text>
<text transform="scale(1.03,1)" x="272.27 277.74 280.76 286.73 290.07 295.88 301.10 304.18 310.41 313.71 317.06 320.40 326.17 331.95 335.03 341.10 347.40 349.85 355.41 360.88 364.22 367.57 370.89 376.92 380.06 385.88 391.65 394.74 400.56 405.51 411.33 417.42 420.76 424.09 430.11 433.46 436.94 440.44 445.94 451.22 456.73 459.45 467.19 475.24 479.05 486.56" y="1305.8" font-size="10.6" fill="#2a2a2a" stroke="#2a2a2a" stroke-width="0.24" >status of the object to be used to track QA/QC</text>
<text transform="scale(1.03,1)" x="272.21 277.28 283.16 289.33 292.72 296.40 302.48 304.83 309.95 312.96 316.11 319.55 325.03 330.38 332.69 338.23 345.83 348.79 354.83 358.56 361.58 364.59" y="1318.8" font-size="10.6" fill="#2a2a2a" stroke="#2a2a2a" stroke-width="0.24" >controls, review or...</text>
<rect x="278.9" y="1338.9" width="54.1" height="20.59999999999991" rx="10.299999999999955" fill="#4a4a55" opacity="0.55" filter="url(#blur2)"/>
<rect x="277.6" y="1337.7" width="53.9" height="19.59999999999991" rx="9.799999999999955" fill="url(#gpill)" stroke="#a9adb6" stroke-width="1"/>
<text transform="scale(1.03,1)" x="277.47 281.40 287.89 297.46 303.88 308.17" y="1351.1" font-size="11.4" fill="#000" stroke="#000" stroke-width="0.33" >remark</text>
<circle cx="340.2" cy="1347.5" r="4.9" fill="#fff" stroke="#111" stroke-width="1.2"/>
<path d="M337.9,1347.5H342.5" stroke="#111" stroke-width="1.05"/>
<path d="M340.5,1345.2V1349.8" stroke="#111" stroke-width="1.05"/>
<text x="249.5 256.4 259.3" y="1343.7" font-size="11.4" fill="#111" stroke="#111" stroke-width="0.33">0..</text>
<text x="262.7" y="1343.9" font-size="12.6" fill="#111" stroke="#111" stroke-width="0.3">∞</text>
<path d="M286.0,1370.6H291.0L298.0,1363.1999999999998L305.0,1370.6H521.5A8,8 0 0 1 529.5,1378.6V1407.3999999999999A8,8 0 0 1 521.5,1415.3999999999999H286.0A8,8 0 0 1 278.0,1407.3999999999999V1378.6A8,8 0 0 1 286.0,1370.6Z" fill="url(#gcall)" fill-opacity="1" stroke="#050505" stroke-width="1.2"/>
<text transform="scale(1.03,1)" x="272.20 279.09 284.91 290.15 292.98 298.13 304.17 313.22 321.95 327.66 333.91 337.21 340.24 346.36 350.15 353.35 356.86 362.65 371.31 377.12 380.96 386.42 389.15 394.59 399.53 404.67 410.42 415.78 418.09 424.01 427.04 432.80 438.84 441.81 449.66 452.55 455.84 461.84 465.15 468.44 474.61 477.02" y="1382.8" font-size="10.6" fill="#2a2a2a" stroke="#2a2a2a" stroke-width="0.24" >Any comment or remark associated with this</text>
<text transform="scale(1.03,1)" x="272.28 277.55 283.39 288.95 294.36 297.25 300.73 303.19 308.42 311.73 314.77 320.24 326.22 329.57 335.77 339.33 345.12 348.22 351.57 354.92 360.71 366.50 369.64 375.48 381.41 385.01 390.23 396.27 402.32 405.41 411.59 415.42 418.51 424.69 428.53 434.28 440.01 446.23 448.93 454.07 460.05 463.57 466.24 472.28" y="1395.8" font-size="10.6" fill="#2a2a2a" stroke="#2a2a2a" stroke-width="0.24" >specific feature, the person or organization</text>
<text transform="scale(1.03,1)" x="272.51 281.13 286.81 292.42 295.02 300.97 306.95 310.23 313.49 319.17 324.87 327.67 332.78 338.77 347.76 356.44 362.11 368.32 371.61 374.65 377.34 382.96 388.94 394.95 398.23 401.49 407.17 412.87 415.91 418.95" y="1408.8" font-size="10.6" fill="#2a2a2a" stroke="#2a2a2a" stroke-width="0.24" >making the comment, and the...</text>
<rect x="243.4" y="1439.9" width="86.9" height="20.59999999999991" rx="10.299999999999955" fill="#4a4a55" opacity="0.55" filter="url(#blur2)"/>
<rect x="242.1" y="1438.7" width="86.70000000000002" height="19.59999999999991" rx="9.799999999999955" fill="url(#gpill)" stroke="#0e0e0e" stroke-width="1.3"/>
<text transform="scale(1.03,1)" x="242.93 249.79 252.80 259.50 265.93 271.65 275.23 279.19 285.31 291.07 297.88 301.12 304.59" y="1452.1" font-size="11.4" fill="#000" stroke="#000" stroke-width="0.33" >diggs:results</text>
<rect x="322" y="1452" width="11" height="11" fill="#0a0a0a"/>
<rect x="323.1" y="1453.1" width="8.8" height="8.8" fill="#fff"/>
<path d="M324.6,1460.4L329,1456" stroke="#000" stroke-width="2"/>
<path d="M325.7,1454.1H330.9V1459.3Z" fill="#000"/>
<circle cx="337.5" cy="1448.5" r="4.9" fill="#fff" stroke="#111" stroke-width="1.2"/>
<path d="M335.2,1448.5H339.8" stroke="#111" stroke-width="1.05"/>
<path d="M337.5,1446.2V1450.8" stroke="#111" stroke-width="1.05"/>
<path d="M250.5,1471.6H255.5L262.5,1464.1999999999998L269.5,1471.6H433.5A8,8 0 0 1 441.5,1479.6V1482.3999999999999A8,8 0 0 1 433.5,1490.3999999999999H250.5A8,8 0 0 1 242.5,1482.3999999999999V1479.6A8,8 0 0 1 250.5,1471.6Z" fill="url(#gcall2)" fill-opacity="1" stroke="#050505" stroke-width="1.2"/>
<text transform="scale(1.03,1)" x="237.73 244.63 247.71 253.88 257.63 263.63 269.38 275.25 279.28 282.40 287.64 290.95 294.23 299.88 305.80 309.10 312.14 318.10 324.25 326.92 332.71 337.88 340.60 346.27 348.54 355.25 360.73 365.89 372.05 374.94 377.29 383.24 389.22 392.52 395.55 401.54 407.80 410.20 415.70 421.12" y="1483.8" font-size="10.6" fill="#2a2a2a" stroke="#2a2a2a" stroke-width="0.24" >A property that holds a ResultSet object</text>
<rect x="1.4" y="1137.9" width="114.6" height="20.59999999999991" rx="10.299999999999955" fill="#4a4a55" opacity="0.55" filter="url(#blur2)"/>
<rect x="0.1" y="1136.7" width="114.4" height="19.59999999999991" rx="9.799999999999955" fill="url(#gpill)" stroke="#0e0e0e" stroke-width="1.3"/>
<text transform="scale(1.03,1)" x="7.62 16.73 23.22 26.60 33.04 37.39 39.98 46.38 48.93 55.46 61.51 67.46 70.31 77.68 83.72 89.42 96.17 99.37" y="1150.1" font-size="11.4" fill="#000" stroke="#000" stroke-width="0.33" >MaterialTestResult</text>
<circle cx="123.4" cy="1146.5" r="4.9" fill="#fff" stroke="#111" stroke-width="1.2"/>
<path d="M121.10000000000001,1146.5H125.7" stroke="#111" stroke-width="1.05"/>
<path d="M157,1509H472.5Q480.5,1509 480.5,1517V1611.7Q480.5,1619.7 472.5,1619.7H157Z" fill="url(#gsub)" stroke="#bcbcbc" stroke-width="2"/>
<circle cx="165.6" cy="1522.4" r="4.9" fill="#fff" stroke="#111" stroke-width="1.2"/>
<path d="M163.29999999999998,1522.5H167.9" stroke="#111" stroke-width="1.05"/>
<text transform="scale(1.03,1)" x="172.91 179.77 186.44 192.85 198.83 202.67 205.88 209.58 216.44 220.29 223.24 229.84 236.43 239.21 247.85 252.05 258.65 265.32" y="1525.8" font-size="11.4" fill="#000" stroke="#000" stroke-width="0.33" >Substitution Group</text>
<rect x="160" y="1535.5" width="242" height="2" fill="url(#gsep)"/>
<rect x="172.4" y="1548.8" width="96.99999999999997" height="20.600000000000136" rx="10.300000000000068" fill="#4a4a55" opacity="0.55" filter="url(#blur2)"/>
<rect x="171.1" y="1547.6" width="96.79999999999998" height="19.600000000000136" rx="9.800000000000068" fill="url(#gpill)" stroke="#0e0e0e" stroke-width="1.3"/>
<text transform="scale(1.03,1)" x="173.93 181.74 188.29 194.37 198.29 202.26 208.41 214.49 217.94 226.91 233.90 236.73 242.94 249.02" y="1561.0" font-size="11.4" fill="#000" stroke="#000" stroke-width="0.33" >AbstractObject</text>
<circle cx="277.5" cy="1557.4" r="4.9" fill="#fff" stroke="#111" stroke-width="1.2"/>
<path d="M275.2,1557.5H279.8" stroke="#111" stroke-width="1.05"/>
<path d="M277.5,1555.1000000000001V1559.7" stroke="#111" stroke-width="1.05"/>
<path d="M179.5,1580.3H184.7L191.7,1572.8999999999999L198.7,1580.3H458.8A8,8 0 0 1 466.8,1588.3V1603.4A8,8 0 0 1 458.8,1611.4H179.5A8,8 0 0 1 171.5,1603.4V1588.3A8,8 0 0 1 179.5,1580.3Z" fill="url(#gcall2)" fill-opacity="1" stroke="#050505" stroke-width="1.2"/>
<text transform="scale(1.03,1)" x="168.29 174.37 179.85 184.79 190.56 193.89 197.06 202.38 208.18 213.95 217.24 220.51 226.67 230.49 233.31 240.73 243.09 250.25 257.08 263.34 266.41 272.47 278.76 281.20 286.75 292.21 295.32 300.53 303.04 308.50 311.32 317.09 322.78 325.85 331.61 337.41 342.80 345.45 351.46 357.49 360.56 366.78" y="1592.5" font-size="10.6" fill="#2a2a2a" stroke="#2a2a2a" stroke-width="0.24" >Base type for DIGGS objects – extension of</text>
<text transform="scale(1.03,1)" x="169.11 175.22 184.44 187.11 189.92 196.89 202.73 208.19 211.66 215.14 220.62 226.08 228.79 236.28 244.54 250.15 253.16 261.05 263.96 267.29 273.31 276.17 281.62 284.62 290.58 293.90 299.70 304.90 307.66 313.36 319.42 325.49 328.71 332.25 338.09 346.81 352.66 356.52 362.02 365.14 371.35 375.14 381.19 386.99 392.89 396.95 400.45 402.85 408.38 413.59" y="1605.5" font-size="10.6" fill="#2a2a2a" stroke="#2a2a2a" stroke-width="0.24" >gml:AbstractGML with status and remark properties.</text>
</svg>
</body></html>
